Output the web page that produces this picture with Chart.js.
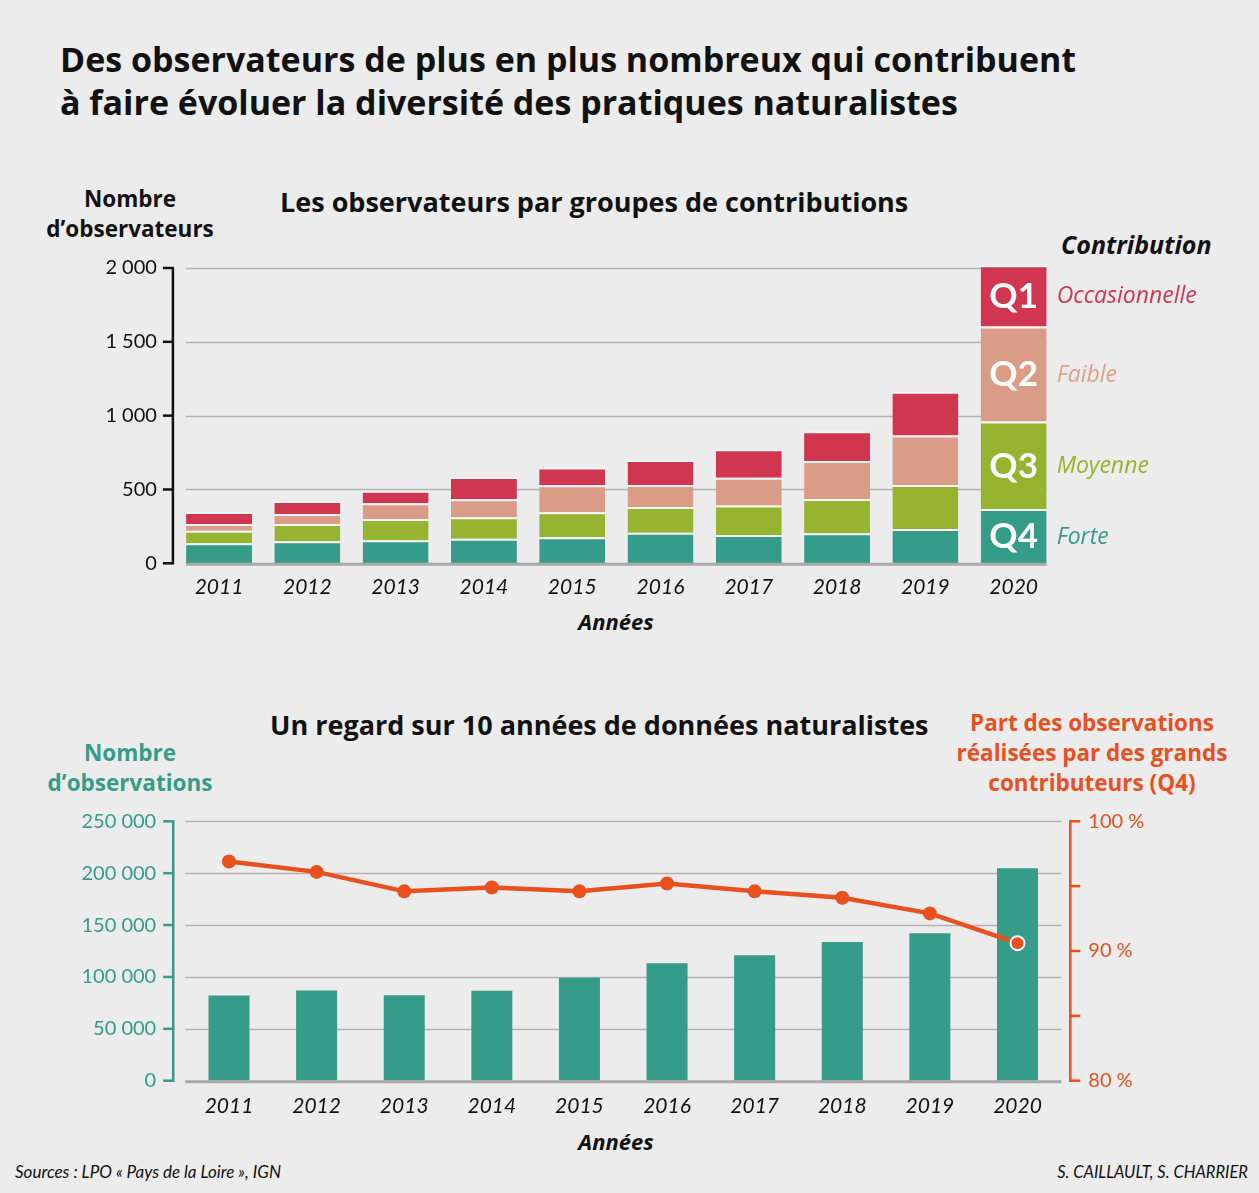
<!DOCTYPE html>
<html lang="fr">
<head>
<meta charset="utf-8">
<title>Observateurs naturalistes</title>
<script src="https://cdn.jsdelivr.net/npm/chart.js@4"></script>
<style>
  html, body { margin: 0; padding: 0; }
  body { width: 1259px; height: 1193px; background: #ececec; position: relative; overflow: hidden;
         font-family: Lato, "Noto Sans", sans-serif; color: #111; }
  .t { position: absolute; white-space: nowrap; }
  .b { font-family: "Open Sans", "Noto Sans", sans-serif; font-weight: 700; }
  .title { left: 60px; top: 38px; font-size: 34px; line-height: 43px; }
  .sub { font-size: 27px; line-height: 32px; }
  .lbl { font-size: 22.5px; line-height: 30px; text-align: center; }
  .ann { font-size: 22px; font-style: italic; line-height: 28px; }
  .foot { font-size: 17px; font-style: italic; line-height: 20px; top: 1162px; }
  canvas { position: absolute; left: 0; }
</style>
</head>
<body>

<div class="t b title">Des observateurs de plus en plus nombreux qui contribuent<br>à faire évoluer la diversité des pratiques naturalistes</div>

<div class="t b sub" style="left:280px; top:186px;">Les observateurs par groupes de contributions</div>
<div class="t b lbl" style="left:30px; width:200px; top:184px;">Nombre<br>d’observateurs</div>
<div class="t b ann" style="left:1061px; top:230px; font-size:25px;">Contribution</div>
<div class="t b ann" style="left:516px; width:200px; text-align:center; top:607px;">Années</div>

<div class="t b sub" style="left:270px; top:709px;">Un regard sur 10 années de données naturalistes</div>
<div class="t b lbl" style="left:30px; width:200px; top:738px; color:#369c8a;">Nombre<br>d’observations</div>
<div class="t b lbl" style="left:942px; width:300px; top:708px; color:#e8501e;">Part des observations<br>réalisées par des grands<br>contributeurs (Q4)</div>
<div class="t b ann" style="left:516px; width:200px; text-align:center; top:1127px;">Années</div>

<div class="t foot" style="left:15px;">Sources : LPO « Pays de la Loire », IGN</div>
<div class="t foot" style="right:11px; font-size:16.5px;">S. CAILLAULT, S. CHARRIER</div>

<canvas id="top" width="1259" height="420" style="top:240px;"></canvas>
<canvas id="bottom" width="1259" height="400" style="top:790px;"></canvas>

<script>
// ---------- data ----------
const years = ['2011', '2012', '2013', '2014', '2015', '2016', '2017', '2018', '2019', '2020']

// observers per contribution group (stacked, bottom to top)
const q4Forte = [136, 149, 156, 167, 176, 207, 192, 203, 233, 368]
const q3Moyenne = [85, 117, 144, 145, 170, 175, 199, 233, 298, 592]
const q2Faible = [45, 68, 107, 122, 183, 149, 189, 256, 334, 644]
const q1Occasionnelle = [82, 88, 85, 151, 119, 169, 193, 203, 296, 414]
const observerTicks = [0, 500, 1000, 1500, 2000]

// number of observations + share made by Q4 contributors
const observations = [82000, 87000, 82300, 86700, 99300, 113100, 120900, 133700, 142000, 204700]
const partQ4 = [96.9, 96.1, 94.6, 94.9, 94.6, 95.2, 94.6, 94.1, 92.9, 90.6]
const observationTicks = [0, 50000, 100000, 150000, 200000, 250000]
const partTicks = [80, 85, 90, 95, 100]

const groups = [
  { code: 'Q4', name: 'Forte', color: '#369c8a', text: '#369c8a', data: q4Forte },
  { code: 'Q3', name: 'Moyenne', color: '#97b430', text: '#97b430', data: q3Moyenne },
  { code: 'Q2', name: 'Faible', color: '#db9c87', text: '#dea08a', data: q2Faible },
  { code: 'Q1', name: 'Occasionnelle', color: '#d13651', text: '#d13651', data: q1Occasionnelle }
]

const TEAL = '#369c8a'
const ORANGE = '#e8501e'

Chart.defaults.font.family = 'Lato, "Noto Sans", sans-serif'
Chart.defaults.animation = false

function fmt(v) {
  return String(v).replace(/\B(?=(\d{3})+(?!\d))/g, ' ')
}

// fixed ticks and no extra label padding, so the plot area is where the layout says
function fixedTicks(values) {
  return scale => { scale.ticks = values.map(v => ({ value: v })) }
}
function fixWidth(w) {
  return scale => {
    scale.width = w
    scale.paddingTop = 0
    scale.paddingBottom = 0
  }
}

// ------ gridlines, baseline and the offset axis lines ------
const axisDecor = {
  id: 'axisDecor',
  beforeDatasetsDraw(chart, args, opts) {
    const ctx = chart.ctx
    const a = chart.chartArea
    const y = chart.scales.y
    ctx.save()
    ctx.strokeStyle = '#b3b3b3'
    ctx.lineWidth = 1.5
    opts.grid.forEach(v => {
      const py = Math.round(y.getPixelForValue(v)) + 0.5
      ctx.beginPath(); ctx.moveTo(a.left + opts.inset, py); ctx.lineTo(a.right - opts.inset, py); ctx.stroke()
    })
    ctx.restore()
  },
  afterDatasetsDraw(chart, args, opts) {
    const ctx = chart.ctx
    const a = chart.chartArea
    const y = chart.scales.y
    ctx.save()
    // baseline
    const by = y.getPixelForValue(0) + 1
    ctx.strokeStyle = '#a9a9a9'
    ctx.lineWidth = 3
    ctx.beginPath(); ctx.moveTo(a.left + opts.inset, by); ctx.lineTo(a.right - opts.inset, by); ctx.stroke()
    // axis lines with their ticks
    opts.axes.forEach(ax => {
      const s = chart.scales[ax.scale]
      const x = ax.side === 'left' ? a.left - ax.gap : a.right + ax.gap
      const dir = ax.side === 'left' ? -1 : 1
      const y0 = s.getPixelForValue(ax.values[0])
      const y1 = s.getPixelForValue(ax.values[ax.values.length - 1])
      ctx.strokeStyle = ax.color
      ctx.lineWidth = 2.5
      ctx.beginPath(); ctx.moveTo(x, Math.min(y0, y1) - 1); ctx.lineTo(x, Math.max(y0, y1) + 1); ctx.stroke()
      ax.values.forEach(v => {
        const py = s.getPixelForValue(v)
        ctx.beginPath(); ctx.moveTo(x - dir * 1, py); ctx.lineTo(x + dir * 10, py); ctx.stroke()
      })
    })
    ctx.restore()
  }
}

// ------ Q labels inside the 2020 bar + group names on the right ------
const groupLabels = {
  id: 'groupLabels',
  afterDatasetsDraw(chart) {
    const ctx = chart.ctx
    const last = years.length - 1
    ctx.save()
    ctx.textBaseline = 'middle'
    groups.forEach((g, i) => {
      const bar = chart.getDatasetMeta(i).data[last]
      const cy = (bar.y + bar.base) / 2
      ctx.fillStyle = '#ffffff'
      ctx.textAlign = 'center'
      ctx.font = 'bold 35px Lato, "Noto Sans", sans-serif'
      ctx.fillText(g.code, bar.x, cy + 1)
      ctx.fillStyle = g.text
      ctx.textAlign = 'left'
      ctx.font = 'italic 23px "Open Sans", "Noto Sans", sans-serif'
      ctx.fillText(g.name, bar.x + bar.width / 2 + 10, cy + 1)
    })
    ctx.restore()
  }
}

// ------------- TOP CHART : stacked bars -------------
new Chart(document.getElementById('top'), {
  type: 'bar',
  data: {
    labels: years,
    datasets: groups.map(g => ({
      label: g.code,
      data: g.data,
      backgroundColor: g.color,
      borderColor: 'rgba(246,246,246,0.9)',
      borderWidth: { top: 2, left: 0, right: 0, bottom: 0 },
      borderSkipped: false,
      barPercentage: 0.747,
      categoryPercentage: 1
    }))
  },
  options: {
    responsive: false,
    devicePixelRatio: 1,
    layout: { padding: { top: 20.6, right: 201.2, bottom: 0, left: 0 } },
    plugins: {
      legend: { display: false },
      tooltip: { enabled: false },
      axisDecor: {
        inset: 11,
        grid: observerTicks.slice(1),
        axes: [{ scale: 'y', side: 'left', gap: 2, color: '#111111', values: observerTicks }]
      }
    },
    scales: {
      x: {
        stacked: true,
        grid: { display: false, drawTicks: false },
        border: { display: false },
        ticks: { color: '#111', font: { size: 21, style: 'italic' }, padding: 11 },
        afterFit(scale) { scale.height = 96.7 }
      },
      y: {
        stacked: true,
        min: 0,
        max: 2050,
        grid: { display: false, drawTicks: false },
        border: { display: false },
        afterBuildTicks: fixedTicks(observerTicks),
        ticks: { color: '#111', font: { size: 20 }, padding: 18, callback: v => fmt(v) },
        afterFit: fixWidth(174.9)
      }
    }
  },
  plugins: [axisDecor, groupLabels]
})

// ------------- BOTTOM CHART : bars + line -------------
new Chart(document.getElementById('bottom'), {
  type: 'bar',
  data: {
    labels: years,
    datasets: [
      {
        type: 'line',
        label: 'Part Q4',
        data: partQ4,
        yAxisID: 'y1',
        order: 0,
        borderColor: ORANGE,
        borderWidth: 4.5,
        pointRadius: 7,
        pointBackgroundColor: ORANGE,
        pointBorderColor: years.map((y, i) => (i === years.length - 1 ? '#ffffff' : ORANGE)),
        pointBorderWidth: years.map((y, i) => (i === years.length - 1 ? 2 : 0)),
        tension: 0
      },
      {
        label: 'Observations',
        data: observations,
        yAxisID: 'y',
        order: 1,
        backgroundColor: TEAL,
        barPercentage: 0.468,
        categoryPercentage: 1
      }
    ]
  },
  options: {
    responsive: false,
    devicePixelRatio: 1,
    layout: { padding: { top: 31.3, right: 0, bottom: 0, left: 0 } },
    plugins: {
      legend: { display: false },
      tooltip: { enabled: false },
      axisDecor: {
        inset: 0,
        grid: observationTicks.slice(1),
        axes: [
          { scale: 'y', side: 'left', gap: 12, color: TEAL, values: observationTicks },
          { scale: 'y1', side: 'right', gap: 9, color: ORANGE, values: partTicks }
        ]
      }
    },
    scales: {
      x: {
        grid: { display: false, drawTicks: false },
        border: { display: false },
        ticks: { color: '#111', font: { size: 21, style: 'italic' }, padding: 13 },
        afterFit(scale) { scale.height = 109.3 }
      },
      y: {
        position: 'left',
        min: 0,
        max: 250000,
        grid: { display: false, drawTicks: false },
        border: { display: false },
        afterBuildTicks: fixedTicks(observationTicks),
        ticks: { color: TEAL, font: { size: 20 }, padding: 29, callback: v => fmt(v) },
        afterFit: fixWidth(185.2)
      },
      y1: {
        position: 'right',
        min: 80,
        max: 100,
        grid: { display: false, drawTicks: false },
        border: { display: false },
        afterBuildTicks: fixedTicks(partTicks),
        ticks: { color: ORANGE, font: { size: 20 }, padding: 27, callback: v => (v % 10 === 0 ? v + ' %' : '') },
        afterFit: fixWidth(197.7)
      }
    }
  },
  plugins: [axisDecor]
})
</script>
</body>
</html>
